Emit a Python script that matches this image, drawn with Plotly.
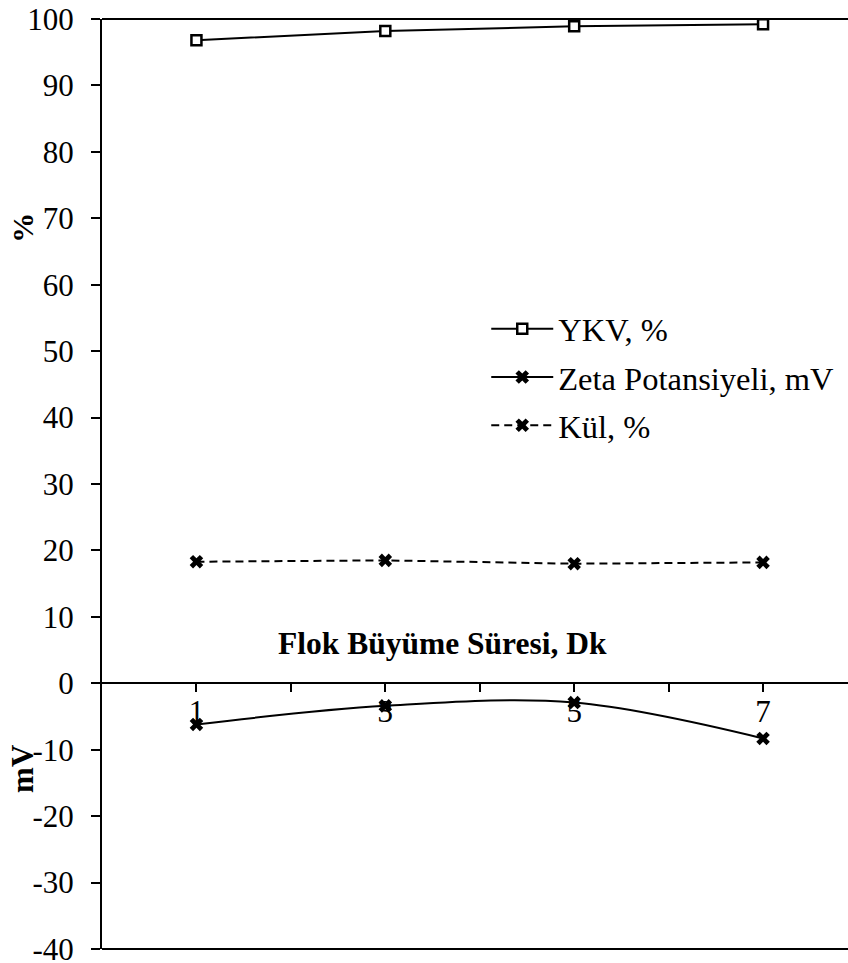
import plotly.graph_objects as go

x_vals = [1, 3, 5, 7]
ykv = [96.8, 98.2, 98.9, 99.2]
zeta = [-6.2, -3.4, -2.9, -8.3]
kul = [18.3, 18.5, 18.0, 18.2]
tick_vals = [1, 2, 3, 4, 5, 6, 7]
tick_text = ["1", "", "3", "", "5", "", "7"]
y_tick_vals = [-40, -30, -20, -10, 0, 10, 20, 30, 40, 50, 60, 70, 80, 90, 100]
y_tick_text = ["-40", "-30", "-20", "-10", "0", "10", "20", "30", "40", "50", "60", "70", "80", "90", "100"]

FONT = "Liberation Serif"

fig = go.Figure()
fig.add_trace(go.Scatter(
    x=x_vals, y=ykv, name="YKV, %", mode="lines+markers",
    line=dict(color="black", width=2),
    marker=dict(symbol="square", size=10, color="white", line=dict(color="black", width=2.5)),
    legendgroup="a"))
fig.add_trace(go.Scatter(
    x=x_vals, y=zeta, name="Zeta Potansiyeli, mV", mode="lines+markers",
    line=dict(color="black", width=2, shape="spline", smoothing=1),
    marker=dict(symbol="x", size=12, color="black"),
    legendgroup="b"))
fig.add_trace(go.Scatter(
    x=x_vals, y=kul, name="Kül, %", mode="lines+markers",
    line=dict(color="black", width=2, dash="8px,5px"),
    marker=dict(symbol="x", size=12, color="black"),
    legendgroup="c"))

W, H = 848, 963
L, T, B = 101.5, 19, 14.4
fig.update_layout(
    width=W, height=H,
    margin=dict(l=L, r=0, t=T, b=B, pad=0, autoexpand=False),
    paper_bgcolor="white", plot_bgcolor="white",
    font=dict(family=FONT, size=31, color="black"),
    showlegend=True,
    legend=dict(x=(486 - L) / (W - L), y=(H - B - 301) / (H - T - B), xanchor="left", yanchor="top",
                font=dict(family=FONT, size=32.5, color="black"),
                bgcolor="rgba(0,0,0,0)", tracegroupgap=3, itemwidth=62),
    xaxis=dict(range=[0, (W - L) / 94.5], tickvals=tick_vals, ticktext=tick_text,
               showgrid=False, zeroline=False, showline=True, linecolor="black", linewidth=2,
               ticks="outside", ticklen=8, tickwidth=2, tickcolor="black",
               anchor="free", position=40 / 140, automargin=False,
               tickfont=dict(family=FONT, size=31, color="black"), ticklabelstandoff=-7),
    yaxis=dict(range=[-40, 100], tickvals=y_tick_vals, ticktext=y_tick_text,
               showgrid=False, zeroline=False, showline=True, linecolor="black", linewidth=2,
               ticks="outside", ticklen=9, tickwidth=2, tickcolor="black", automargin=False,
               tickfont=dict(family=FONT, size=31, color="black"), ticklabelstandoff=11,
               ticklabeloverflow="allow"),
)

# frame lines top and bottom
fig.add_shape(type="line", xref="paper", yref="paper", x0=0, x1=1, y0=1, y1=1,
              line=dict(color="black", width=2))
fig.add_shape(type="line", xref="paper", yref="paper", x0=0, x1=1, y0=0, y1=0,
              line=dict(color="black", width=2))

fig.add_annotation(text="<b>Flok Büyüme Süresi, Dk</b>", xref="x", yref="y", x=(442 - L) / 94.5, y=6,
                   showarrow=False, font=dict(family=FONT, size=31.5, color="black"),
                   xanchor="center", yanchor="middle")
fig.add_annotation(text="<b>%</b>", xref="paper", yref="paper", x=(22 - L) / (W - L),
                   y=(H - B - 228) / (H - T - B), textangle=-90, showarrow=False,
                   font=dict(family=FONT, size=30, color="black"), xanchor="center", yanchor="middle")
fig.add_annotation(text="<b>mV</b>", xref="paper", yref="paper", x=(22 - L) / (W - L),
                   y=(H - B - 768) / (H - T - B), textangle=-90, showarrow=False,
                   font=dict(family=FONT, size=31, color="black"), xanchor="center", yanchor="middle")

fig.write_html("out.html")
